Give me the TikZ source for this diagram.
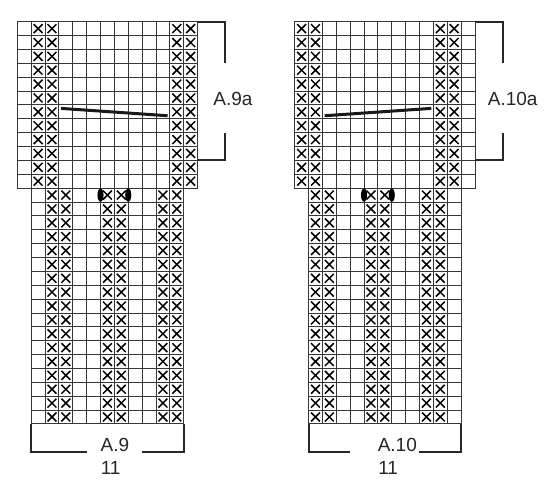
\documentclass[tikz,border=0pt]{standalone}
\usepackage{fontspec}
\setmainfont{Liberation Sans}
\definecolor{gridgray}{RGB}{55,55,55}
\definecolor{bracketgray}{RGB}{40,40,40}
\tikzstyle{gridline}=[draw=gridgray,line width=0.9pt,line cap=rect]
\tikzstyle{stitchx}=[draw=black,line width=1.5pt]
\tikzstyle{bracketline}=[draw=bracketgray,line width=2pt]
\tikzstyle{slantline}=[draw=black!90,line width=3pt]
\tikzstyle{chartlabel}=[font=\fontsize{19}{21}\selectfont,inner sep=0pt,text=black!85]
% one cross stitch in the cell whose top left corner is (#1,#2)
\newcommand{\xstitch}[2]{\draw[stitchx] (#1+0.18,#2+0.18) -- (#1+0.82,#2+0.82) (#1+0.82,#2+0.18) -- (#1+0.18,#2+0.82);}
% the grid of one chart: 13 x 12 top part, 11 x 17 lower part
\newcommand{\chartgrid}{%
  \foreach \r in {0,...,12} \draw[gridline] (0,\r) -- (13,\r);
  \foreach \c in {0,...,13} \draw[gridline] (\c,0) -- (\c,12);
  \foreach \r in {13,...,29} \draw[gridline] (1,\r) -- (12,\r);
  \foreach \c in {1,...,12} \draw[gridline] (\c,12) -- (\c,29);
}

\begin{document}
\begin{tikzpicture}[x=13.87pt,y=-13.87pt]
    \useasboundingbox (-1.247,-1.565) rectangle (38.41,33.48);

    % Chart A.9
    \chartgrid
    \foreach \r in {0,...,11} \foreach \c in {1,2,11,12} {\xstitch{\c}{\r}}
    \foreach \r in {12,...,28} \foreach \c in {2,3,6,7,10,11} {\xstitch{\c}{\r}}
    \fill[black] (6,12.5) ellipse (0.22 and 0.48);
    \fill[black] (8,12.5) ellipse (0.22 and 0.48);
    \draw[slantline] (3.15,6.25) -- (10.84,6.78);

    % A.9 brackets and labels
    \node[chartlabel] (lblninea) at (15.55,5.6) {A.9a};
    \draw[bracketline] (13,0) -- (15,0) -- (15,3);
    \draw[bracketline] (15,8) -- (15,10) -- (13,10);
    \node[chartlabel] (lblnine) at (7.04,30.52) {A.9};
    \node[chartlabel] (lblninew) at (6.73,32.2) {11};
    \draw[bracketline] (1,29) -- (1,31) -- (5,31);
    \draw[bracketline] (9,31) -- (12,31) -- (12,29);

    % Chart A.10
    \begin{scope}[shift={(20,0)}]
    \chartgrid
    \foreach \r in {0,...,11} \foreach \c in {0,1,10,11} {\xstitch{\c}{\r}}
    \foreach \r in {12,...,28} \foreach \c in {1,2,5,6,9,10} {\xstitch{\c}{\r}}
    \fill[black] (5,12.5) ellipse (0.22 and 0.48);
    \fill[black] (7,12.5) ellipse (0.22 and 0.48);
    \draw[slantline] (2.16,6.78) -- (9.85,6.25);

    % A.10 brackets and labels
    \node[chartlabel] (lbltena) at (15.72,5.6) {A.10a};
    \draw[bracketline] (13,0) -- (15,0) -- (15,3);
    \draw[bracketline] (15,8) -- (15,10) -- (13,10);
    \node[chartlabel] (lblten) at (7.4,30.52) {A.10};
    \node[chartlabel] (lbltenw) at (6.74,32.2) {11};
    \draw[bracketline] (1,29) -- (1,31) -- (4,31);
    \draw[bracketline] (9,31) -- (12,31) -- (12,29);
    \end{scope}
\end{tikzpicture}
\end{document}
